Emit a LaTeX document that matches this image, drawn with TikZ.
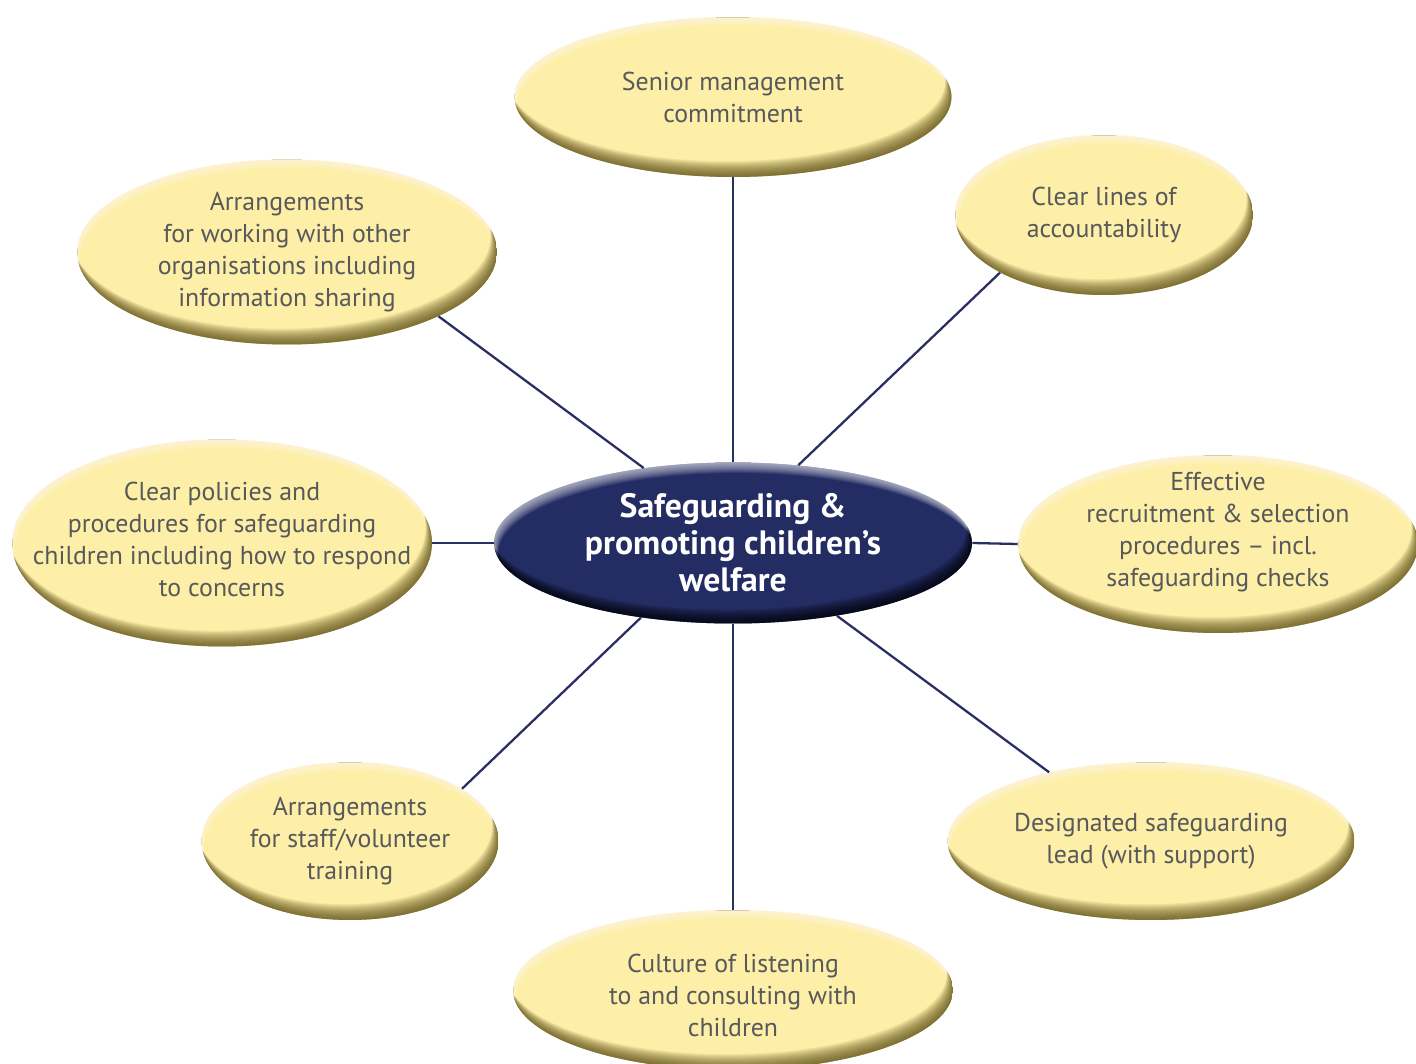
\documentclass[tikz,border=0pt]{standalone}
\usepackage{fontspec}
\setmainfont{PT Sans}
\usepackage{tikz}
\usetikzlibrary{shapes.geometric,calc}
\definecolor{bubfill}{HTML}{FDEEA8}
\definecolor{bubdark}{HTML}{5A4C12}
\definecolor{bubink}{HTML}{58595B}
\definecolor{hubblue}{HTML}{232C63}
\definecolor{linkblue}{HTML}{2A2F63}

% soft rim: stacked crescents, each one the node minus a shifted copy
\newcommand{\rimshade}[5]{%
  \foreach \s in {1,...,#5}{%
    \fill[#1, opacity=#2, even odd rule]
      let \p1=(path picture bounding box.north east),
          \p2=(path picture bounding box.center) in
      (path picture bounding box.south west) rectangle (\p1)
      ($(\p2)+(#3*\s pt,#4*\s pt)$) ellipse ({\x1-\x2} and {\y1-\y2});
  }}

\tikzset{
  bubble/.style={ellipse, inner sep=0pt, fill=bubfill,
    path picture={\rimshade{white}{0.07}{0.15}{-0.5}{10}%
                  \rimshade{bubdark}{0.07}{-0.2}{0.5}{18}}},
  bubblelabel/.style={align=center, text=bubink,
    font=\fontsize{14.7}{18.2}\selectfont},
  hub/.style={ellipse, inner sep=0pt, fill=hubblue,
    minimum width=9.56cm, minimum height=3.22cm,
    path picture={\rimshade{white}{0.07}{0.2}{-0.5}{12}%
                  \rimshade{black}{0.07}{-0.2}{0.5}{16}}},
  hublabel/.style={align=center, text=white,
    font=\bfseries\fontsize{19.2}{21}\selectfont},
  link/.style={draw=linkblue, line width=1.3pt}
}

\begin{document}
\begin{tikzpicture}[x=0.02cm, y=-0.02cm]
  \path[use as bounding box, clip] (0,0) rectangle (1416,1064);

  % centre
  \node[hub, label={[hublabel]center:{Safeguarding \&\\promoting children’s\\welfare}}]
    (hub) at (733,543) {};

  % surrounding bubbles
  \node[bubble, minimum width=8.74cm, minimum height=3.2cm,
        label={[bubblelabel]center:{Senior management\\commitment}}]
    (senior) at (733,97) {};
  \node[bubble, minimum width=5.96cm, minimum height=3.2cm,
        label={[bubblelabel]center:{Clear lines of\\accountability}}]
    (account) at (1104,215) {};
  \node[bubble, minimum width=8.4cm, minimum height=3.7cm,
        label={[bubblelabel]center:{Arrangements\\for working with other\\organisations including\\information sharing}}]
    (partners) at (287,252) {};
  \node[bubble, minimum width=8.4cm, minimum height=4.14cm,
        label={[bubblelabel, yshift=0.08cm]center:{Clear policies and\\procedures for safeguarding\\children including how to respond\\to concerns}}]
    (policies) at (222,543) {};
  \node[bubble, minimum width=8.0cm, minimum height=3.56cm,
        label={[bubblelabel, yshift=0.24cm]center:{Effective\\recruitment \& selection\\procedures – incl.\\safeguarding checks}}]
    (recruit) at (1218,544) {};
  \node[bubble, minimum width=5.94cm, minimum height=3.16cm,
        label={[bubblelabel]center:{Arrangements\\for staff/volunteer\\training}}]
    (training) at (350,841) {};
  \node[bubble, minimum width=8.14cm, minimum height=3.16cm,
        label={[bubblelabel]center:{Designated safeguarding\\lead (with support)}}]
    (lead) at (1151,841) {};
  \node[bubble, minimum width=8.8cm, minimum height=3.2cm,
        label={[bubblelabel, yshift=-0.1cm]center:{Culture of listening\\to and consulting with\\children}}]
    (culture) at (733,990) {};

  % spokes
  \draw[link] (hub.90) -- (senior.270);
  \draw[link] (hub.50) -- (account.209);
  \draw[link] (hub.140) -- (partners.337);
  \draw[link] (hub.180) -- (policies.0);
  \draw[link] (hub.0) -- (recruit.180);
  \draw[link] (hub.219) -- (training.25);
  \draw[link] (hub.270) -- (culture.90);
  \draw[link] (hub.325) -- (lead.146);
\end{tikzpicture}
\end{document}
